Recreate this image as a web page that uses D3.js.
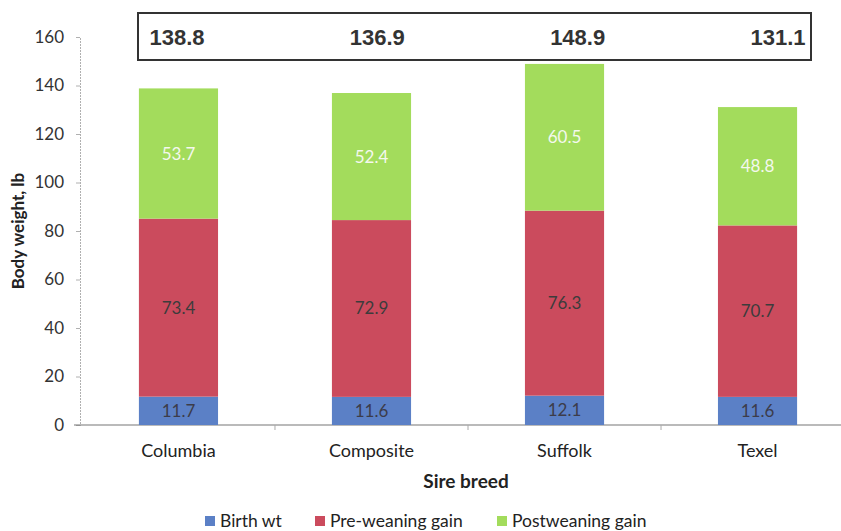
<!DOCTYPE html>
<html>
<head>
<meta charset="utf-8">
<script src="https://cdn.jsdelivr.net/npm/d3@7"></script>
<style>
  body { margin: 0; background: #fff; }
  svg { display: block; }
  text { font-family: Lato, "Open Sans", sans-serif; }
</style>
</head>
<body>
<svg width="841" height="531"></svg>
<script>
// data
var breeds = [ "Columbia", "Composite", "Suffolk", "Texel" ];
var birthWt = [ 11.7, 11.6, 12.1, 11.6 ];
var preWeaning = [ 73.4, 72.9, 76.3, 70.7 ];
var postWeaning = [ 53.7, 52.4, 60.5, 48.8 ];
var totals = [ "138.8", "136.9", "148.9", "131.1" ];
var yTicks = [ 0, 20, 40, 60, 80, 100, 120, 140, 160 ];
var seriesNames = [ "Birth wt", "Pre-weaning gain", "Postweaning gain" ];
var colors = [ "#5b80c6", "#cb4b5d", "#a3dc5c" ];
var labelColors = [ "#3c3c4a", "#3c3c3c", "#f4f8ee" ];

var svg = d3.select( "svg" );

var x = d3.scaleBand().domain( breeds ).range( [ 81, 855 ] )
  .paddingInner( 0.59 ).paddingOuter( 0.3 );
var y = d3.scaleLinear().domain( [ 0, 160 ] ).range( [ 425, 37 ] );

var rows = breeds.map( function ( b, i ) {
  return { breed: b, s0: birthWt[ i ], s1: preWeaning[ i ], s2: postWeaning[ i ] };
} );
var stack = d3.stack().keys( [ "s0", "s1", "s2" ] )( rows );

// y axis
var yAxis = svg.append( "g" )
  .attr( "transform", "translate(80,0)" )
  .call( d3.axisLeft( y ).tickValues( yTicks ).tickSize( 4 ).tickPadding( 12 ) );
yAxis.select( ".domain" ).attr( "stroke", "#b0b0b0" ).attr( "stroke-dasharray", "2,1" );
yAxis.selectAll( ".tick line" ).attr( "stroke", "#b0b0b0" );
yAxis.selectAll( ".tick text" )
  .attr( "fill", "#333" ).style( "font-size", "17px" ).style( "font-family", "Lato, sans-serif" );

// x axis
var xAxis = svg.append( "g" )
  .attr( "transform", "translate(0,425)" );
xAxis.append( "line" )
  .attr( "x1", 74 ).attr( "x2", 841 )
  .attr( "stroke", "#777" ).attr( "stroke-width", 1.2 );
xAxis.selectAll( ".sep" )
  .data( breeds.slice( 1 ) )
  .enter().append( "line" )
  .attr( "x1", function ( d ) { return x( d ) - x.step() * x.paddingInner() / 2; } )
  .attr( "x2", function ( d ) { return x( d ) - x.step() * x.paddingInner() / 2; } )
  .attr( "y1", 0 ).attr( "y2", 5 )
  .attr( "stroke", "#aaa" );
xAxis.selectAll( ".cat" )
  .data( breeds )
  .enter().append( "text" )
  .attr( "x", function ( d ) { return x( d ) + x.bandwidth() / 2; } )
  .attr( "y", 32 )
  .attr( "text-anchor", "middle" )
  .attr( "fill", "#222" )
  .style( "font-size", "18px" )
  .text( function ( d ) { return d; } );

// bars
var layers = svg.selectAll( ".layer" )
  .data( stack )
  .enter().append( "g" )
  .attr( "fill", function ( d, i ) { return colors[ i ]; } );

layers.selectAll( "rect" )
  .data( function ( d ) { return d; } )
  .enter().append( "rect" )
  .attr( "x", function ( d ) { return x( d.data.breed ); } )
  .attr( "y", function ( d ) { return y( d[ 1 ] ); } )
  .attr( "width", x.bandwidth() )
  .attr( "height", function ( d ) { return y( d[ 0 ] ) - y( d[ 1 ] ); } );

// segment labels
stack.forEach( function ( layer, li ) {
  svg.selectAll( ".lbl" + li )
    .data( layer )
    .enter().append( "text" )
    .attr( "x", function ( d ) { return x( d.data.breed ) + x.bandwidth() / 2; } )
    .attr( "y", function ( d ) { return ( y( d[ 0 ] ) + y( d[ 1 ] ) ) / 2 + 6; } )
    .attr( "text-anchor", "middle" )
    .attr( "fill", labelColors[ li ] )
    .style( "font-size", "17px" )
    .text( function ( d ) { return ( d[ 1 ] - d[ 0 ] ).toFixed( 1 ); } );
} );

// totals box
var tx = d3.scalePoint().domain( breeds ).range( [ 177, 778 ] );
svg.append( "rect" )
  .attr( "x", 138 ).attr( "y", 13 )
  .attr( "width", 673 ).attr( "height", 47 )
  .attr( "fill", "none" ).attr( "stroke", "#333" ).attr( "stroke-width", 2 );
svg.selectAll( ".total" )
  .data( totals )
  .enter().append( "text" )
  .attr( "x", function ( d, i ) { return tx( breeds[ i ] ); } )
  .attr( "y", 45 )
  .attr( "text-anchor", "middle" )
  .attr( "fill", "#333" )
  .style( "font-family", "'Liberation Sans', Arial, sans-serif" )
  .style( "font-weight", "bold" )
  .style( "font-size", "22px" )
  .text( function ( d ) { return d; } );

// axis titles
svg.append( "text" )
  .attr( "transform", "translate(24,231) rotate(-90)" )
  .attr( "text-anchor", "middle" )
  .attr( "fill", "#222" )
  .style( "font-weight", "bold" )
  .style( "font-size", "17px" )
  .text( "Body weight, lb" );
svg.append( "text" )
  .attr( "x", 466 ).attr( "y", 488 )
  .attr( "text-anchor", "middle" )
  .attr( "fill", "#222" )
  .style( "font-weight", "bold" )
  .style( "font-size", "19px" )
  .text( "Sire breed" );

// legend
var legendX = [ 205, 315, 497 ];
var leg = svg.selectAll( ".leg" )
  .data( seriesNames )
  .enter().append( "g" )
  .attr( "transform", function ( d, i ) { return "translate(" + legendX[ i ] + ",516)"; } );
leg.append( "rect" )
  .attr( "width", 10 ).attr( "height", 10 )
  .attr( "fill", function ( d, i ) { return colors[ i ]; } );
leg.append( "text" )
  .attr( "x", 15 ).attr( "y", 11 )
  .attr( "fill", "#222" )
  .style( "font-size", "17.5px" )
  .text( function ( d ) { return d; } );
</script>
</body>
</html>
